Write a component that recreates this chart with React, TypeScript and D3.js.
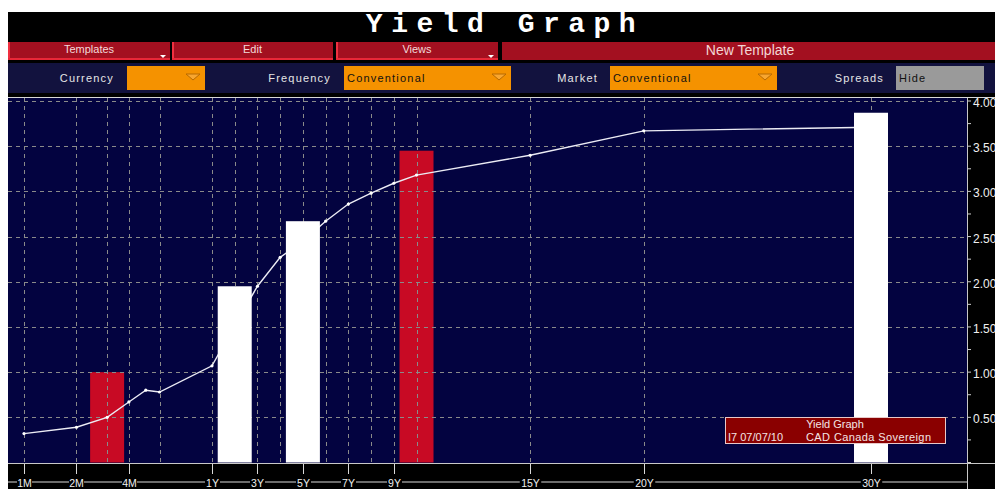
import React from "react";
import * as d3 from "d3";

// ---- data ----
const curveTenors = [1 / 12, 2 / 12, 3 / 12, 4 / 12, 5 / 12, 6 / 12, 1, 2, 3, 4, 5, 6, 7, 8, 9, 10, 15, 20, 30];
const curveYields = [0.32, 0.39, 0.5, 0.67, 0.8, 0.78, 1.07, 1.52, 1.95, 2.27, 2.45, 2.67, 2.86, 2.98, 3.09, 3.18, 3.4, 3.67, 3.71];

const barTenors = [3 / 12, 2, 5, 10, 30];
const barValues = [1.0, 1.95, 2.67, 3.45, 3.87];
const barKinds = ["red", "white", "white", "red", "white"];

const gridTenors = [1 / 12, 2 / 12, 3 / 12, 4 / 12, 6 / 12, 1, 2, 3, 4, 5, 6, 7, 8, 9, 10, 15, 20, 30];
const tickTenors = [1 / 12, 2 / 12, 4 / 12, 1, 3, 5, 7, 9, 15, 20, 30];
const tickLabels = ["1M", "2M", "4M", "1Y", "3Y", "5Y", "7Y", "9Y", "15Y", "20Y", "30Y"];

const yTicks = [0.5, 1, 1.5, 2, 2.5, 3, 3.5, 4];
const yMinorTicks = d3.range(0, 4.01, 0.25);

const menuItems = ["Templates", "Edit", "Views"];
const legendTitle = "Yield Graph";
const legendLine = ["I7 07/07/10", "CAD Canada Sovereign"];

// ---- layout ----
const W = 995;
const H = 489;
const plotL = 8;
const plotR = 967;
const plotT = 98;
const plotB = 463;

const xMonths = d3.scaleLog().domain([1, 12]).range([24, 212]);
const xYears = d3.scaleLinear().domain([1, 30]).range([212, 871]);
const x = (t: number) => (t < 1 ? xMonths(t * 12) : xYears(t));
const y = d3.scaleLinear().domain([0, 4]).range([462.5, 101]);

const font = "'Liberation Sans', Arial, sans-serif";
const NAVY = "#030340";
const RED = "#c80a24";

export default function App() {
  const pts: [number, number][] = curveTenors.map((t, i) => [x(t), y(curveYields[i])]);
  const linePath = d3.line()(pts) || "";
  const barW = 34;

  const bars = barTenors.map((t, i) => ({
    x: x(t) - barW / 2,
    y: y(barValues[i]),
    h: y(0) - y(barValues[i]),
    kind: barKinds[i],
  }));

  const menuX = [8, 172, 336];
  const menuW = [162, 161, 162];

  const controls = [
    { label: "Currency", labelEnd: 114, box: [127, 205], text: "", fill: "#f59200", tri: true },
    { label: "Frequency", labelEnd: 331, box: [344, 511], text: "Conventional", fill: "#f59200", tri: true },
    { label: "Market", labelEnd: 598, box: [610, 777], text: "Conventional", fill: "#f59200", tri: true },
    { label: "Spreads", labelEnd: 884, box: [896, 984], text: "Hide", fill: "#9a9a9a", tri: false },
  ];

  return (
    <svg
      width={W}
      height={H}
      style={{ position: "absolute", left: 0, top: 0, background: "#fff" }}
      fontFamily={font}
    >
      {/* title bar */}
      <rect x={8} y={12} width={W - 8} height={H - 12} fill="#000" />
      <text
        x={505}
        y={32}
        textAnchor="middle"
        fill="#fff"
        fontFamily="'Liberation Mono', 'DejaVu Sans Mono', monospace"
        fontWeight="bold"
        fontSize={28}
        letterSpacing={8.5}
      >
        Yield Graph
      </text>

      {/* menu row */}
      {menuItems.map((m, i) => (
        <g key={m}>
          <rect x={menuX[i]} y={42} width={menuW[i]} height={18} fill="#a31020" />
          <rect x={menuX[i]} y={42} width={2} height={18} fill="#f03040" />
          <rect x={menuX[i]} y={58} width={menuW[i]} height={2} fill="#e82838" />
          <text x={menuX[i] + menuW[i] / 2} y={53} textAnchor="middle" fill="#f2dada" fontSize={11}>
            {m}
          </text>
          {m !== "Edit" && (
            <polygon
              points={`${menuX[i] + menuW[i] - 10},55 ${menuX[i] + menuW[i] - 4},55 ${menuX[i] + menuW[i] - 7},58`}
              fill="#fff"
            />
          )}
        </g>
      ))}
      <rect x={502} y={42} width={W - 502} height={18} fill="#a31020" />
      <text x={750} y={55} textAnchor="middle" fill="#f2d6d6" fontSize={14}>
        New Template
      </text>

      {/* controls row */}
      <rect x={8} y={63} width={W - 8} height={30} fill="#12123e" />
      {controls.map((c) => (
        <g key={c.label}>
          <text x={c.labelEnd} y={82} textAnchor="end" fill="#e6e6e6" fontSize={11} letterSpacing={1.2}>
            {c.label}
          </text>
          <rect x={c.box[0]} y={66} width={c.box[1] - c.box[0]} height={24} fill={c.fill} />
          {c.text && (
            <text x={c.box[0] + 3} y={82} fill="#111" fontSize={11} letterSpacing={1.2}>
              {c.text}
            </text>
          )}
          {c.tri && (
            <polygon
              points={`${c.box[1] - 19},74 ${c.box[1] - 5},74 ${c.box[1] - 12},80`}
              fill="#f8a630"
              stroke="#b86a00"
              strokeWidth={1}
            />
          )}
        </g>
      ))}

      {/* plot background */}
      <rect x={plotL} y={plotT} width={plotR - plotL} height={plotB - plotT} fill={NAVY} />

      {/* red bars */}
      {bars
        .filter((b) => b.kind === "red")
        .map((b, i) => (
          <rect key={"r" + i} x={b.x} y={b.y} width={barW} height={b.h} fill={RED} />
        ))}

      {/* grid */}
      <g stroke="#8a8a8a" strokeWidth={1} strokeDasharray="4,4">
        {[0, ...yTicks].map((v) => (
          <line key={"h" + v} x1={plotL} x2={plotR} y1={Math.round(y(v)) + 0.5} y2={Math.round(y(v)) + 0.5} />
        ))}
        {gridTenors.map((t) => (
          <line key={"v" + t} x1={Math.round(x(t)) + 0.5} x2={Math.round(x(t)) + 0.5} y1={plotT} y2={plotB} />
        ))}
      </g>

      {/* curve */}
      <path d={linePath} fill="none" stroke="#ececf4" strokeWidth={1.4} />
      {pts.map((p, i) => (
        <circle key={"p" + i} cx={p[0]} cy={p[1]} r={1.6} fill="#fff" />
      ))}

      {/* white bars */}
      {bars
        .filter((b) => b.kind === "white")
        .map((b, i) => (
          <rect key={"w" + i} x={b.x} y={b.y} width={barW} height={b.h} fill="#fff" />
        ))}

      {/* frame lines */}
      <line x1={plotL} x2={W} y1={97.5} y2={97.5} stroke="#d8d8d8" strokeWidth={1} />
      <line x1={plotL} x2={W} y1={463.5} y2={463.5} stroke="#c8c8c8" strokeWidth={1} />
      <line x1={967.5} x2={967.5} y1={98} y2={H} stroke="#c8c8c8" strokeWidth={1} />

      {/* right axis */}
      {yMinorTicks.map((v) => (
        <line key={"m" + v} x1={968} x2={971} y1={y(v)} y2={y(v)} stroke="#d0d0d0" strokeWidth={1} />
      ))}
      {yTicks.map((v) => (
        <text key={"yl" + v} x={973} y={y(v) + 6} fill="#f0f0f0" fontSize={12}>
          {v.toFixed(2)}
        </text>
      ))}

      {/* bottom axis */}
      <line x1={plotL} x2={plotR} y1={482} y2={482} stroke="#d8d8d8" strokeWidth={1} />
      {tickTenors.map((t, i) => {
        const tx = Math.round(x(t)) + 0.5;
        const lw = tickLabels[i].length * 6.5 + 2;
        return (
          <g key={"xt" + i}>
            <line x1={tx} x2={tx} y1={464} y2={474} stroke="#d8d8d8" strokeWidth={1} />
            <rect x={tx - lw / 2} y={477} width={lw} height={10} fill="#000" />
            <text x={tx} y={486.5} textAnchor="middle" fill="#f0f0f0" fontSize={10.5}>
              {tickLabels[i]}
            </text>
          </g>
        );
      })}

      {/* legend */}
      <rect x={725.5} y={417.5} width={220} height={26} fill="#8a0000" stroke="#e8c8c8" strokeWidth={1} />
      <text x={835} y={428} textAnchor="middle" fill="#f4e4e4" fontSize={11}>
        {legendTitle}
      </text>
      <text x={728} y={441} fill="#f4e4e4" fontSize={11}>
        {legendLine[0]}
      </text>
      <text x={806} y={441} fill="#f4e4e4" fontSize={11} letterSpacing={0.4}>
        {legendLine[1]}
      </text>
    </svg>
  );
}
